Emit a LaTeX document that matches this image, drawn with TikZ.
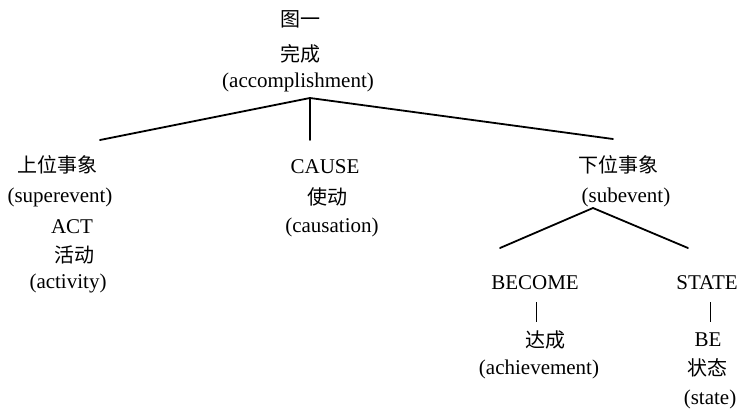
\documentclass[tikz,border=0pt]{standalone}
\usepackage{fontspec}
\setmainfont{Liberation Serif}
\newfontfamily\cjk{Noto Sans CJK SC}
\begin{document}
\begin{tikzpicture}[x=1pt,y=-1pt,
  lat/.style={inner sep=0pt,font=\fontsize{21}{24}\selectfont},
  han/.style={inner sep=0pt,font=\cjk\fontsize{20}{23}\selectfont},
  branch/.style={line width=1.8pt,line cap=round},
  bar/.style={line width=1pt}]
\useasboundingbox (0,0) rectangle (739,408);
% root
\node[han] (fig) at (300,19) {图一};
\node[han] (acczh) at (300,54) {完成};
\node[lat] (acc) at (298,82) {(accomplishment)};
% left
\node[han] (supzh) at (57,165) {上位事象};
\node[lat] (sup) at (60,197) {(superevent)};
\node[lat] (act) at (72,227) {ACT};
\node[han] (actzh) at (74,255) {活动};
\node[lat] (activity) at (68,283) {(activity)};
% middle
\node[lat] (cause) at (325,167) {CAUSE};
\node[han] (causezh) at (327,197) {使动};
\node[lat] (causation) at (332,227) {(causation)};
% right
\node[han] (subzh) at (618,165) {下位事象};
\node[lat] (sub) at (626,197) {(subevent)};
\node[lat] (become) at (535,283) {BECOME};
\node[han] (achzh) at (545,340) {达成};
\node[lat] (ach) at (539,369) {(achievement)};
\node[lat] (state) at (707,283) {STATE};
\node[lat] (be) at (708,340) {BE};
\node[han] (statezh) at (707,368) {状态};
\node[lat] (statee) at (710,399) {(state)};
% connector points
\coordinate (top) at (310,98);
\coordinate (lend) at (100,140);
\coordinate (mend) at (310,140);
\coordinate (rend) at (613,139);
\coordinate (stop) at (593,208);
\coordinate (slend) at (500,248);
\coordinate (srend) at (688,248);
\coordinate (b1top) at (536,302);
\coordinate (b1bot) at (536,322);
\coordinate (b2top) at (710,302);
\coordinate (b2bot) at (710,322);
\draw[branch] (lend) -- (top) -- (rend);
\draw[branch] (top) -- (mend);
\draw[branch] (slend) -- (stop) -- (srend);
\draw[bar] (b1top) -- (b1bot);
\draw[bar] (b2top) -- (b2bot);
\end{tikzpicture}
\end{document}
